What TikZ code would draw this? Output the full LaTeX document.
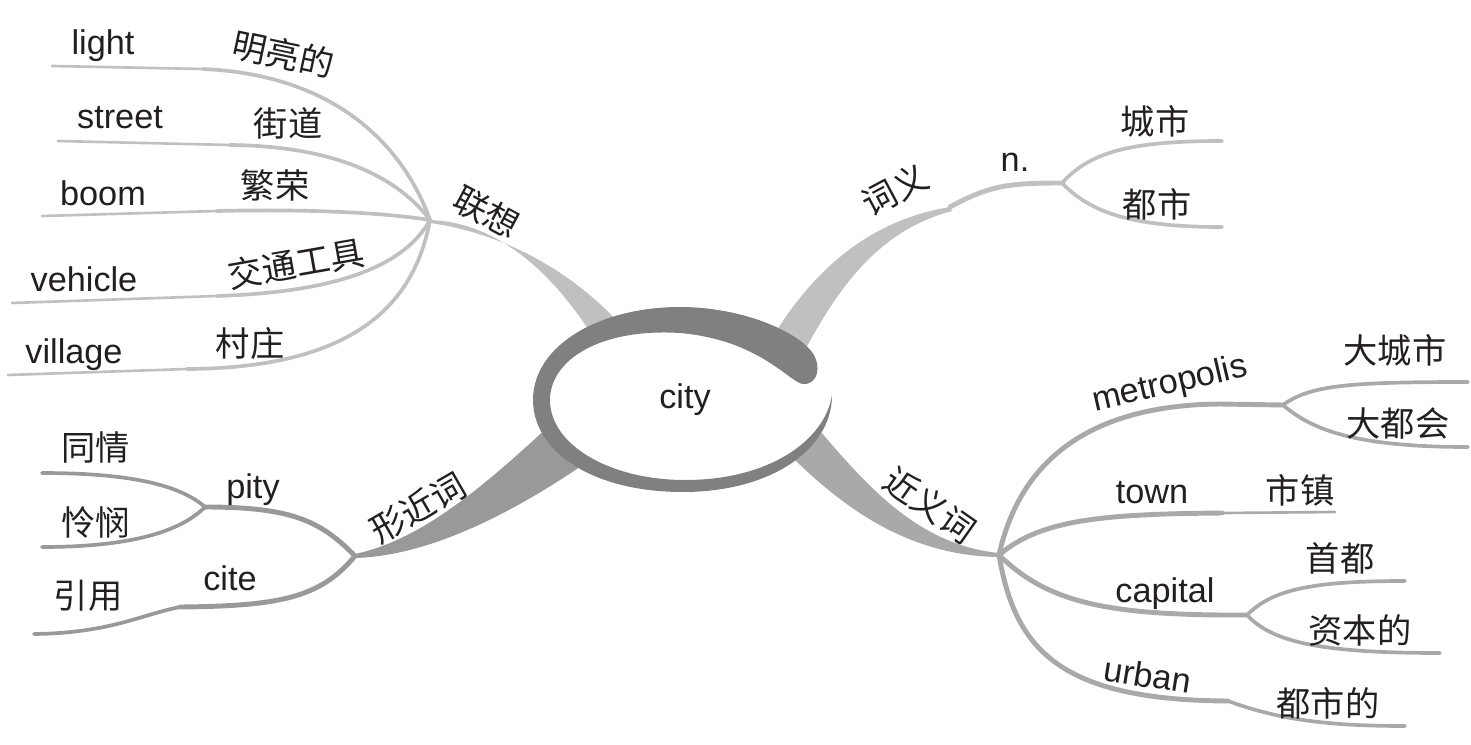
\documentclass[tikz,border=0pt]{standalone}
\usepackage{fontspec}
\setmainfont{Liberation Sans}
\newfontfamily\cjk{Noto Sans CJK SC}

\definecolor{palebr}{HTML}{C0C0C0}
\definecolor{midbr}{HTML}{A9A9A9}
\definecolor{darkbr}{HTML}{999999}
\definecolor{ringgray}{HTML}{808080}
\definecolor{ink}{HTML}{231F20}

\begin{document}
\begin{tikzpicture}[
		x=0.02cm, y=-0.02cm,
		every node/.style={font=\fontsize{19.5}{22}\selectfont, text=ink, inner sep=0pt},
		zh/.style={font=\fontsize{19.5}{22}\selectfont\cjk},
		leaf/.style={line width=2.1pt, line cap=round},
		tip/.style={line width=1.5pt, line cap=round},
		twig/.style={line width=2.8pt, line cap=round}
		]
		\useasboundingbox (0,0) rectangle (1471,744);
		
		% Hubs of the branches
		\coordinate (hubL) at (430,220);
		\coordinate (hubS) at (950,207);
		\coordinate (hubN) at (1062,183);
		\coordinate (hubR) at (999,555);
		\coordinate (hubM) at (1283,405);
		\coordinate (hubC) at (1247,615);
		\coordinate (hubX) at (355,556);
		\coordinate (hubP) at (205,507);
		
		% Main branches (tapered)
		\fill[palebr] (hubL) .. controls (490,222) and (545,262) .. (592,335)
		-- (630,335) .. controls (570,265) and (495,232) .. (430,223) -- cycle;
		\fill[palebr] (765,350) .. controls (810,270) and (870,220) .. (hubS)
		-- (952,211) .. controls (880,230) and (840,285) .. (805,350) -- cycle;
		\fill[midbr] (815,425) .. controls (870,490) and (920,545) .. (999,553)
		-- (999,557) .. controls (915,556) and (850,515) .. (790,455) -- cycle;
		\fill[darkbr] (550,425) .. controls (480,490) and (420,540) .. (355,554)
		-- (355,558) .. controls (430,556) and (515,512) .. (590,460) -- cycle;
		
		% Centre ring
		\fill[white] (685,402) ellipse [x radius=146, y radius=86];
		\fill[ringgray] (832,395) .. controls (832,450) and (770,492) .. (683,492)
		.. controls (590,492) and (533,450) .. (533,400)
		.. controls (533,345) and (600,307) .. (680,307)
		.. controls (740,307) and (795,330) .. (812,352)
		.. controls (822,366) and (818,385) .. (803,384)
		.. controls (790,383) and (760,340) .. (680,333)
		.. controls (600,328) and (550,360) .. (550,400)
		.. controls (550,445) and (610,480) .. (685,480)
		.. controls (770,480) and (825,440) .. (832,395) -- cycle;
		\node (city) at (685,400) {city};
		
		% 联想
		\coordinate (s1) at (203,69);  \coordinate (e1) at (52,66);
		\coordinate (s2) at (230,145); \coordinate (e2) at (58,141);
		\coordinate (s3) at (217,211); \coordinate (e3) at (42,216);
		\coordinate (s4) at (217,296); \coordinate (e4) at (12,303);
		\coordinate (s5) at (187,369); \coordinate (e5) at (8,375);
		\draw[leaf, palebr] (hubL) .. controls (405,150) and (340,75) .. (s1);
		\draw[leaf, palebr] (hubL) .. controls (400,180) and (340,146) .. (s2);
		\draw[leaf, palebr] (hubL) .. controls (380,212) and (300,209) .. (s3);
		\draw[leaf, palebr] (hubL) .. controls (405,265) and (340,292) .. (s4);
		\draw[leaf, palebr] (hubL) .. controls (415,300) and (360,368) .. (s5);
		\draw[tip, palebr] (s1) -- (e1);
		\draw[tip, palebr] (s2) -- (e2);
		\draw[tip, palebr] (s3) -- (e3);
		\draw[tip, palebr] (s4) -- (e4);
		\draw[tip, palebr] (s5) -- (e5);
		\node[zh, rotate=-28] (assoc) at (487,212) {联想};
		\node (light) at (103,46) {light};
		\node (street) at (120,118) {street};
		\node (boom) at (103,193) {boom};
		\node (vehicle) at (84,279) {vehicle};
		\node (village) at (74,355) {village};
		\node[zh, rotate=-12] (bright) at (283,54) {明亮的};
		\node[zh] (road) at (288,123) {街道};
		\node[zh] (prosper) at (275,185) {繁荣};
		\node[zh, rotate=10] (transport) at (296,264) {交通工具};
		\node[zh] (hamlet) at (250,344) {村庄};
		
		% 词义
		\draw[twig, palebr] (hubS) .. controls (990,185) and (1010,183) .. (hubN);
		\draw[leaf, palebr] (hubN) .. controls (1090,152) and (1130,141) .. (1222,141);
		\draw[leaf, palebr] (hubN) .. controls (1090,212) and (1130,227) .. (1222,227);
		\node[zh, rotate=28] (meaning) at (895,190) {词义};
		\node (noun) at (1015,162) {n.};
		\node[zh] (mean1) at (1155,121) {城市};
		\node[zh] (mean2) at (1157,204) {都市};
		
		% 近义词
		\coordinate (m1) at (1220,404);
		\coordinate (t1) at (1222,513);
		\coordinate (c1) at (1222,615);
		\coordinate (u1) at (1228,701);
		\draw[twig, midbr] (hubR) .. controls (1020,460) and (1090,405) .. (m1) -- (hubM);
		\draw[twig, midbr] (hubR) .. controls (1040,520) and (1100,514) .. (t1);
		\draw[tip, midbr] (t1) -- (1335,512);
		\draw[twig, midbr] (hubR) .. controls (1045,600) and (1100,614) .. (c1) -- (hubC);
		\draw[twig, midbr] (hubR) .. controls (1015,650) and (1060,700) .. (u1);
		\draw[leaf, midbr] (u1) .. controls (1275,718) and (1320,726) .. (1405,726);
		\draw[leaf, midbr] (hubM) .. controls (1310,385) and (1350,382) .. (1468,382);
		\draw[leaf, midbr] (hubM) .. controls (1310,428) and (1350,447) .. (1468,447);
		\draw[leaf, midbr] (hubC) .. controls (1272,590) and (1310,581) .. (1405,581);
		\draw[leaf, midbr] (hubC) .. controls (1272,642) and (1320,653) .. (1440,653);
		\node[zh, rotate=-35] (synonym) at (930,505) {近义词};
		\node[rotate=13] (metropolis) at (1170,385) {metropolis};
		\node[zh] (metro1) at (1395,350) {大城市};
		\node[zh] (metro2) at (1398,423) {大都会};
		\node (town) at (1152,493) {town};
		\node[zh] (town1) at (1300,490) {市镇};
		\node (capital) at (1165,594) {capital};
		\node[zh] (cap1) at (1340,558) {首都};
		\node[zh] (cap2) at (1360,630) {资本的};
		\node[rotate=-9] (urban) at (1148,675) {urban};
		\node[zh] (urban1) at (1328,703) {都市的};
		
		% 形近词
		\coordinate (ci1) at (180,607);
		\draw[twig, darkbr] (hubX) .. controls (320,520) and (290,507) .. (hubP);
		\draw[twig, darkbr] (hubX) .. controls (320,598) and (280,606) .. (ci1);
		\draw[leaf, darkbr] (ci1) .. controls (140,615) and (110,633) .. (34,634);
		\draw[leaf, darkbr] (hubP) .. controls (180,485) and (130,473) .. (42,473);
		\draw[leaf, darkbr] (hubP) .. controls (180,532) and (130,547) .. (42,547);
		\node[zh, rotate=30] (lookalike) at (418,508) {形近词};
		\node (pity) at (253,490) {pity};
		\node[zh] (pity1) at (96,448) {同情};
		\node[zh] (pity2) at (96,522) {怜悯};
		\node (cite) at (230,578) {cite};
		\node[zh] (cite1) at (88,596) {引用};
		
	\end{tikzpicture}
\end{document}
